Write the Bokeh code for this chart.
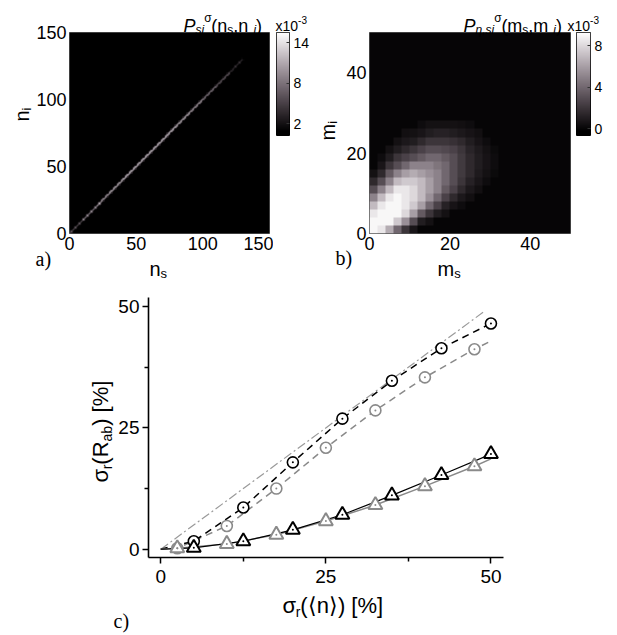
from math import pi
import numpy as np
from bokeh.plotting import figure
from bokeh.layouts import column, row
from bokeh.models import Range1d, FixedTicker, Label, LinearColorMapper, GridBox
from bokeh.embed import file_html
from bokeh.resources import INLINE

FONT = "Liberation Sans"
SERIF = "Liberation Serif"

# ---------------- panel a : joint photon-number distribution (diagonal) -------------
a_range = 150
diag_block_start = [0, 10, 20, 30, 40, 50, 60, 70, 80, 90, 100, 110, 120]
diag_block_end = [10, 20, 30, 40, 50, 60, 70, 80, 90, 100, 110, 120, 130]
diag_values = [6, 9, 11, 12, 13, 13, 13, 13, 12, 11, 9, 7, 4]        # x10^-3, n_s = n_i
offdiag_values = [2, 3, 4, 4.5, 5, 5, 5, 5, 4.5, 4, 3, 2.5, 1.5]      # |n_s - n_i| = 1
a_cbar_low, a_cbar_high = 0.3, 15.5
a_cbar_ticks = [2, 8, 14]
a_ticks = [0, 50, 100, 150]

# ---------------- panel b : detected distribution (2-count cells) --------------------
b_range = 50
b_cell = 2
# each list: values (x10^-3) for m_i cells 0-2, 2-4, ... at one m_s cell (0-2, 2-4, ...)
b_cols = [
    [9, 9, 8.5, 7, 5, 3, 1.5, 0.5],
    [8.5, 9, 9, 8.5, 7, 5, 3, 1.5, 0.7, 0.3],
    [6.5, 9, 9, 9, 8.5, 7, 5, 3.5, 2, 1, 0.5],
    [4, 7.5, 9, 9, 9, 8.5, 7, 5, 3, 2, 1, 0.5],
    [2, 5.5, 8, 8.5, 8.5, 8.5, 7.5, 6, 4, 2.5, 1.5, 0.8, 0.4],
    [0.7, 3, 6, 7.5, 8, 8, 7.5, 6.5, 5, 3, 2, 1, 0.5],
    [0, 1, 3.5, 6, 7, 7, 7, 6, 5, 3.5, 2.5, 1.5, 0.7, 0.3],
    [0, 0.5, 2, 4, 5.5, 6, 6, 5.5, 5, 4, 3, 2, 1, 0.5],
    [0, 0, 1, 2.5, 4, 5, 5, 5, 4.5, 4, 3, 2, 1.2, 0.5],
    [0, 0, 0.5, 1.2, 2.5, 3.5, 4, 4, 4, 3.5, 2.8, 2, 1.2, 0.5],
    [0, 0, 0, 0.6, 1.5, 2.5, 3, 3, 3, 3, 2.5, 1.8, 1, 0.5],
    [0, 0, 0, 0.3, 0.8, 1.5, 2, 2.2, 2.2, 2.2, 2, 1.5, 0.8, 0.4],
    [0, 0, 0, 0, 0.4, 0.8, 1.2, 1.5, 1.5, 1.5, 1.3, 1, 0.6, 0.3],
    [0, 0, 0, 0, 0, 0.4, 0.7, 0.9, 1, 1, 0.9, 0.6, 0.4],
    [0, 0, 0, 0, 0, 0, 0.3, 0.5, 0.6, 0.6, 0.5, 0.3],
    [0, 0, 0, 0, 0, 0, 0, 0.2, 0.3, 0.3, 0.2],
]
b_cbar_low, b_cbar_high = -0.65, 9.3
b_cbar_ticks = [0, 4, 8]
b_ticks = [0, 20, 40]

# ---------------- panel c : relative fluctuation of R_ab ---------------------------
sig_n_black = [5, 12.5, 20, 27.5, 35, 42.5, 50]
circ_black = [1.65, 8.6, 17.9, 26.9, 34.7, 41.4, 46.5]
tri_black = [0.3, 1.65, 4.0, 7.1, 11.1, 15.3, 19.6]
sig_n_gray = [2.5, 10, 17.5, 25, 32.5, 40, 47.5]
circ_gray = [0.2, 4.8, 12.5, 20.9, 28.6, 35.4, 41.2]
tri_gray = [0.2, 1.1, 3.0, 5.8, 9.1, 13.0, 17.1]
th_black_x = [0, 5, 12.5, 20, 27.5, 35, 42.5, 50]
th_black_circ = [0, 1.65, 8.6, 17.9, 26.9, 34.7, 41.4, 46.5]
th_black_tri = [0, 0.3, 1.65, 4.0, 7.1, 11.1, 15.3, 19.6]
th_gray_x = [0, 2.5, 10, 17.5, 25, 32.5, 40, 47.5, 50]
th_gray_circ = [0, 0.2, 4.8, 12.5, 20.9, 28.6, 35.4, 41.2, 42.9]
th_gray_tri = [0, 0.2, 1.1, 3.0, 5.8, 9.1, 13.0, 17.1, 18.6]
ref_x = [0, 49]
ref_y = [0, 49]
c_ticks = [0, 25, 50]
c_minor = [12.5, 37.5]

GRAY = "#8a8a8a"


def palette(n=256):
    out = []
    for t in np.linspace(0, 1, n):
        u = max(0.0, (t - 0.04) / 0.96)
        r = 255 * u
        g = 255 * u * (0.84 + 0.16 * u)
        b = 255 * u * (0.96 + 0.04 * u)
        out.append("#%02x%02x%02x" % (int(round(r)), int(round(g)), int(round(b))))
    return out


PAL = palette()

CW = {'P': 0.667, 's': 0.5, 'i': 0.222, 'n': 0.556, 'm': 0.833, '(': 0.333, ')': 0.333,
      ',': 0.278, ' ': 0.278, 'σ': 0.6, 'η': 0.556, 'x': 0.5, '1': 0.556, '0': 0.556,
      '-': 0.333, '3': 0.556, 'R': 0.722, 'a': 0.556, 'b': 0.556, '[': 0.278, ']': 0.278,
      '%': 0.889, 'r': 0.333, '⟨': 0.39, '⟩': 0.39}


def tw(s, size):
    return sum(CW.get(c, 0.556) for c in s) * size


# full-page transparent overlay for all free texts (coordinates = page pixels)
W, H = 617, 634
ov = figure(width=W, height=H, x_range=Range1d(0, W), y_range=Range1d(H, 0),
            min_border=0, min_border_left=0, min_border_right=0, min_border_top=0,
            min_border_bottom=0, x_axis_location=None, y_axis_location=None,
            toolbar_location=None, output_backend="svg", outline_line_color=None,
            background_fill_alpha=0, border_fill_alpha=0)
ov.grid.visible = False
ov.frame_align = False


def put(parts, x, y, angle=0.0, font=FONT):
    """parts: (text, size, shift_up, italic); x, y page pixels (baseline start)"""
    for text, size, shift, italic in parts:
        style = "italic" if italic else "normal"
        if angle == 0.0:
            ov.add_layout(Label(x=x, y=y - shift, text=text, text_font=font,
                                text_font_size=f"{size}px", text_font_style=style,
                                text_baseline="alphabetic", text_align="left",
                                text_color="black"))
            x += tw(text, size)
        else:
            ov.add_layout(Label(x=x - shift, y=y, angle=angle, text=text, text_font=font,
                                text_font_size=f"{size}px", text_font_style=style,
                                text_baseline="alphabetic", text_align="left",
                                text_color="black"))
            y -= tw(text, size)


def heat_fig(width, left, right, rng, ticks):
    p = figure(width=width, height=275, min_border_left=left, min_border_right=right,
               min_border_top=32, min_border_bottom=42,
               x_range=Range1d(0, rng), y_range=Range1d(0, rng),
               toolbar_location=None, output_backend="svg",
               background_fill_color="black", outline_line_color="#555555")
    p.frame_align = False
    p.grid.visible = False
    for ax in (p.xaxis[0], p.yaxis[0]):
        ax.ticker = FixedTicker(ticks=ticks)
        ax.axis_line_color = None
        ax.major_tick_line_color = None
        ax.minor_tick_line_color = None
        ax.major_tick_out = 0
        ax.major_tick_in = 0
        ax.minor_tick_out = 0
        ax.minor_tick_in = 0
        ax.major_label_text_font = FONT
        ax.major_label_text_font_size = "18px"
        ax.major_label_text_color = "black"
        ax.major_label_standoff = 3
    return p


def cbar_fig(width, left, right, lo, hi, ticks):
    p = figure(width=width, height=275, min_border_left=left, min_border_right=right,
               min_border_top=32, min_border_bottom=140,
               x_range=Range1d(0, 1), y_range=Range1d(lo, hi),
               x_axis_location=None, y_axis_location="right",
               toolbar_location=None, output_backend="svg",
               outline_line_color="black", outline_line_width=1)
    p.frame_align = False
    p.grid.visible = False
    mapper = LinearColorMapper(palette=PAL, low=lo, high=hi)
    grad = np.linspace(lo, hi, 256).reshape(256, 1)
    p.image(image=[grad], x=0, y=lo, dw=1, dh=hi - lo, color_mapper=mapper)
    ax = p.yaxis[0]
    ax.ticker = FixedTicker(ticks=ticks)
    ax.axis_line_color = None
    ax.major_tick_in = 3
    ax.major_tick_out = 0
    ax.major_tick_line_color = "#333333"
    ax.minor_tick_line_color = None
    ax.major_label_text_font = FONT
    ax.major_label_text_font_size = "14px"
    ax.major_label_text_color = "black"
    ax.major_label_standoff = 4
    return p


# ================= panel a =================
img_a = np.zeros((a_range, a_range))
for s, e, v, w in zip(diag_block_start, diag_block_end, diag_values, offdiag_values):
    for k in range(s, e):
        img_a[k, k] = v
        if k + 1 < a_range:
            img_a[k, k + 1] = w
            img_a[k + 1, k] = w
pa = heat_fig(273, 69, 4, a_range, a_ticks)
map_a = LinearColorMapper(palette=PAL, low=a_cbar_low, high=a_cbar_high)
pa.image(image=[img_a], x=0, y=0, dw=a_range, dh=a_range, color_mapper=map_a)
ca = cbar_fig(46, 3, 30, a_cbar_low, a_cbar_high, a_cbar_ticks)

# ================= panel b =================
nb = b_range // b_cell
img_b = np.zeros((nb, nb))
for i, colvals in enumerate(b_cols):
    for j, v in enumerate(colvals):
        img_b[j, i] = v
pb = heat_fig(253, 50, 2, b_range, b_ticks)
map_b = LinearColorMapper(palette=PAL, low=b_cbar_low, high=b_cbar_high)
pb.image(image=[img_b], x=0, y=0, dw=b_range, dh=b_range, color_mapper=map_b)
cb = cbar_fig(45, 4, 27, b_cbar_low, b_cbar_high, b_cbar_ticks)

# ================= panel c =================
pc = figure(width=617, height=359, min_border_left=148, min_border_right=114,
            min_border_top=22, min_border_bottom=77,
            x_range=Range1d(-1.86, 51.9), y_range=Range1d(-1.7, 51.85),
            toolbar_location=None, output_backend="svg", outline_line_color=None)
pc.frame_align = False
pc.grid.visible = False
for ax in (pc.xaxis[0], pc.yaxis[0]):
    ax.ticker = FixedTicker(ticks=c_ticks, minor_ticks=c_minor)
    ax.axis_line_width = 1.6
    ax.axis_line_color = "black"
    ax.major_tick_out = 6
    ax.major_tick_in = 0
    ax.minor_tick_out = 4
    ax.minor_tick_in = 0
    ax.major_tick_line_width = 1.5
    ax.minor_tick_line_width = 1.5
    ax.major_label_text_font = FONT
    ax.major_label_text_font_size = "19px"
    ax.major_label_text_color = "black"
pc.xaxis[0].major_label_standoff = 6
pc.yaxis[0].major_label_standoff = 3

pc.line(ref_x, ref_y, color="#9a9a9a", line_width=1.2, line_dash="9 3 2 3")
pc.line(th_gray_x, th_gray_circ, color=GRAY, line_width=1.5, line_dash="7 5")
pc.line(th_black_x, th_black_circ, color="black", line_width=1.5, line_dash="7 5")
pc.line(th_gray_x, th_gray_tri, color=GRAY, line_width=1.5)
pc.line(th_black_x, th_black_tri, color="black", line_width=1.2)

pc.scatter(sig_n_gray, circ_gray, marker="circle", size=11, fill_color="white",
           line_color=GRAY, line_width=1.6)
pc.scatter(sig_n_gray, tri_gray, marker="triangle", size=14, fill_color="white",
           line_color=GRAY, line_width=2)
pc.scatter(sig_n_black, circ_black, marker="circle", size=11, fill_color="white",
           line_color="black", line_width=1.6)
pc.scatter(sig_n_black, tri_black, marker="triangle", size=14, fill_color="white",
           line_color="black", line_width=2)
pc.scatter(sig_n_gray + sig_n_gray, circ_gray + tri_gray, marker="circle", size=2,
           fill_color=GRAY, line_color=None)
pc.scatter(sig_n_black + sig_n_black, circ_black + tri_black, marker="circle", size=2,
           fill_color="black", line_color=None)

# ================= texts (overlay) =================
put([("P", 18, 0, True), ("si", 12, -4, True), ("σ", 12, 8, False),
     ("(n", 18, 0, False), ("s", 12, -4, False), (" ,n", 18, 0, False),
     ("i", 12, -4, True), (")", 18, 0, False)], 183, 25)
put([("x10", 14, 0, False), ("-3", 10, 6, False)], 275, 25)
put([("n", 20, 0, False), ("s", 13, -5, False)], 149, 268)
put([("n", 20, 0, False), ("i", 13, -5, False)], 21, 121, angle=pi / 2)
put([("a)", 20, 0, False)], 35, 258, font=SERIF)

put([("P", 18, 0, True), ("η,si", 12, -4, True), ("σ", 12, 8, False),
     ("(m", 18, 0, False), ("s", 12, -4, False), (" ,m", 18, 0, False),
     ("i", 12, -4, True), (")", 18, 0, False)], 463, 25)
put([("x10", 14, 0, False), ("-3", 10, 6, False)], 567, 25)
put([("m", 20, 0, False), ("s", 13, -5, False)], 437, 268)
put([("m", 20, 0, False), ("i", 13, -5, False)], 327, 140, angle=pi / 2)
put([("b)", 20, 0, False)], 335, 257, font=SERIF)

put([("σ", 22, 0, False), ("r", 14, -6, False), ("(⟨n⟩) [%]", 22, 0, False)], 282, 605)
put([("σ", 22, 0, False), ("r", 14, -6, False), ("(R", 22, 0, False),
     ("ab", 14, -6, False), (") [%]", 22, 0, False)], 100, 482, angle=pi / 2)
put([("c)", 20, 0, False)], 113, 620, font=SERIF)

main = column(row(pa, ca, pb, cb), pc)
layout = GridBox(children=[(main, 0, 0), (ov, 0, 0)])
open("out.html", "w").write(file_html(layout, INLINE))
